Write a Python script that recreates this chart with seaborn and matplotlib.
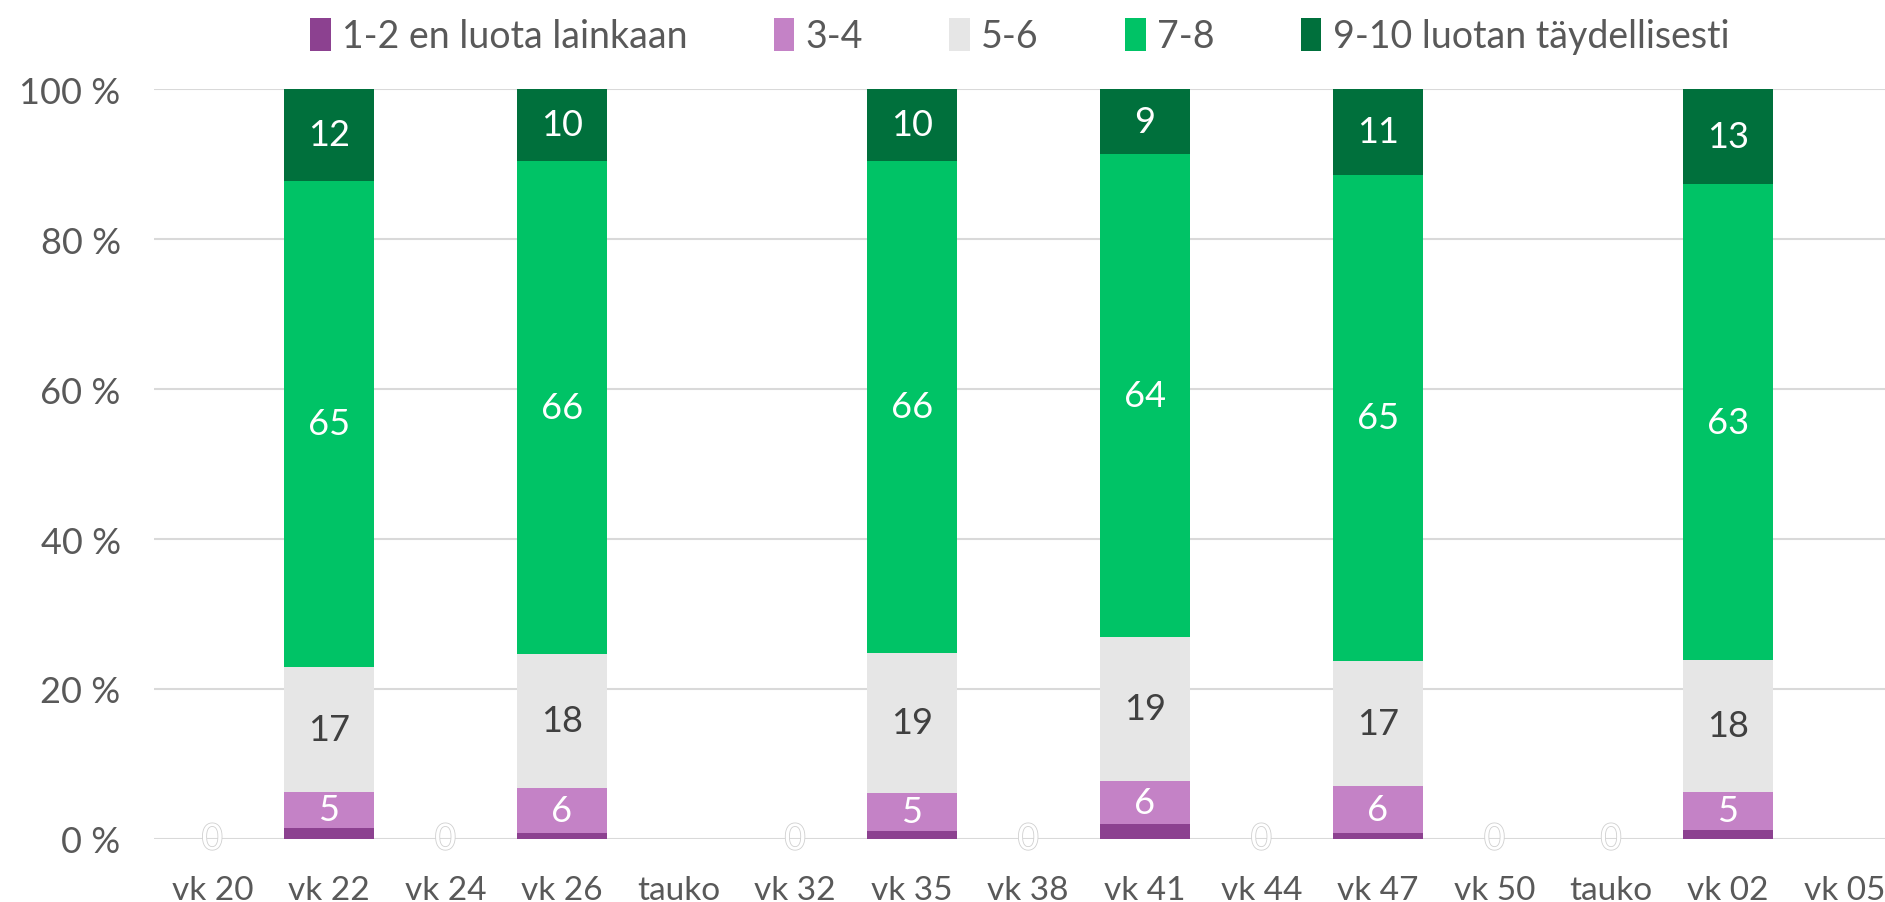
import numpy as np
import pandas as pd
import matplotlib
matplotlib.use("Agg")
import matplotlib.pyplot as plt
import matplotlib.patheffects as pe
import seaborn as sns

# -------------------------------
# Data
# -------------------------------
viikot = ["vk 20", "vk 22", "vk 24", "vk 26", "tauko", "vk 32", "vk 35", "vk 38",
          "vk 41", "vk 44", "vk 47", "vk 50", "tauko", "vk 02", "vk 05"]
nan = np.nan
s_1_2 = [0, 1.5, 0, 0.8, nan, 0, 1.1, 0, 2.0, 0, 0.8, 0, 0, 1.2, nan]
s_3_4 = [0, 4.8, 0, 6.0, nan, 0, 5.1, 0, 5.7, 0, 6.3, 0, 0, 5.1, nan]
s_5_6 = [0, 16.6, 0, 17.9, nan, 0, 18.6, 0, 19.3, 0, 16.7, 0, 0, 17.6, nan]
s_7_8 = [0, 64.9, 0, 65.7, nan, 0, 65.6, 0, 64.3, 0, 64.8, 0, 0, 63.4, nan]
s_9_10 = [0, 12.2, 0, 9.6, nan, 0, 9.6, 0, 8.7, 0, 11.4, 0, 0, 12.7, nan]

sarjat = ["1-2 en luota lainkaan", "3-4", "5-6", "7-8", "9-10 luotan täydellisesti"]
arvot = [s_1_2, s_3_4, s_5_6, s_7_8, s_9_10]
varit = ["#8C4190", "#C482C6", "#E6E6E6", "#00C366", "#00703C"]
tekstivarit = [None, "white", "#404040", "white", "white"]

df = pd.DataFrame({s: v for s, v in zip(sarjat, arvot)})
df["id"] = [str(i) for i in range(len(viikot))]
kum = df[sarjat].cumsum(axis=1)

# -------------------------------
# Plot
# -------------------------------
sns.set_style("white")
plt.rcParams["font.family"] = ["Lato", "DejaVu Sans"]

fig = plt.figure(figsize=(18.85, 9.03), dpi=100)
ax = fig.add_axes([154 / 1885, 63 / 903, 1 - 154 / 1885, 750 / 903])

for y in range(0, 101, 20):
    ax.axhline(y, color="#D9D9D9", lw=1.5, zorder=0)

# pinottu: kumulatiiviset summat ylhäältä alas
for i in reversed(range(len(sarjat))):
    sns.barplot(x=df["id"], y=kum[sarjat[i]], color=varit[i], width=0.77,
                saturation=1, ax=ax, zorder=2, label=sarjat[i], linewidth=0)

# segmenttien arvot
for i, s in enumerate(sarjat):
    if tekstivarit[i] is None:
        continue
    for j in range(len(viikot)):
        v = df[s].iloc[j]
        if np.isnan(v) or v == 0:
            continue
        mid = kum[s].iloc[j] - v / 2
        ax.text(j, mid, f"{v:.0f}", ha="center", va="center", fontsize=26,
                color=tekstivarit[i], zorder=5)

# nollat tyhjille viikoille
for j in range(len(viikot)):
    if df[sarjat[1]].iloc[j] == 0:
        ax.text(j, 0, "0", ha="center", va="center", fontsize=26, color="white", zorder=5,
                path_effects=[pe.withStroke(linewidth=1.2, foreground="#D0D0D0")])

ax.set_xlim(-0.5, 14.35)
ax.set_ylim(0, 100)
ax.set_xticks(range(len(viikot)))
ax.set_xticklabels(viikot, fontsize=24, color="#595959")
ax.set_yticks(range(0, 101, 20))
ax.set_yticklabels([f"{y} %" for y in range(0, 101, 20)], fontsize=26, color="#595959")
ax.tick_params(axis="x", length=0, pad=26)
ax.tick_params(axis="y", length=0, pad=24)
ax.set_xlabel("")
ax.set_ylabel("")
for sp in ax.spines.values():
    sp.set_visible(False)

handles, labels = ax.get_legend_handles_labels()
order = [labels.index(s) for s in sarjat]
ax.legend([handles[k] for k in order], sarjat, loc="upper center",
          bbox_to_anchor=(0.5, 1.14), ncol=5, frameon=False, fontsize=27,
          handlelength=0.55, handleheight=1.0, handletextpad=0.3, columnspacing=2.3,
          labelcolor="#595959")

plt.savefig("out.png", dpi=100)
